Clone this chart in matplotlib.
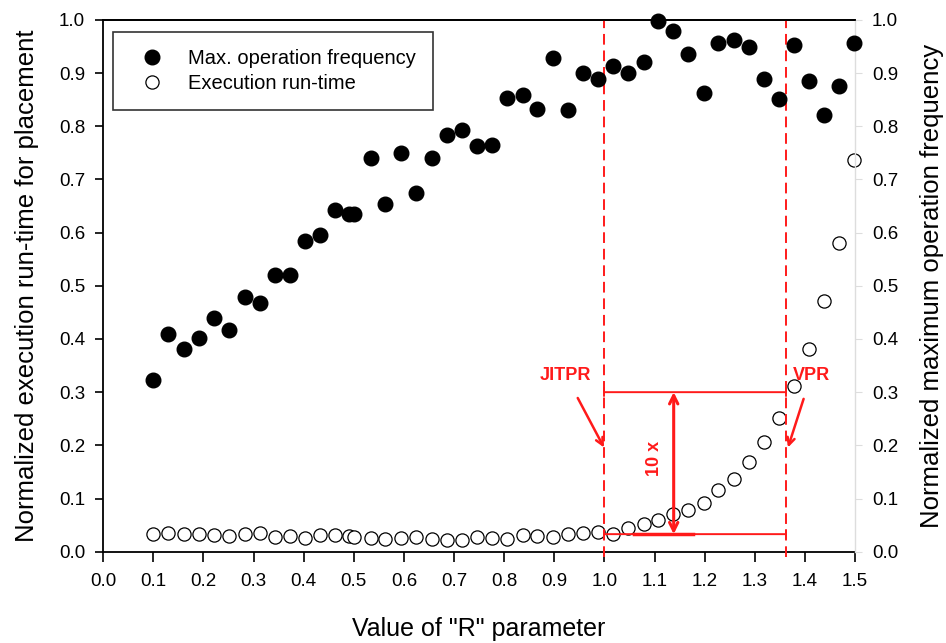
import numpy as np
import matplotlib
matplotlib.use('Agg')
import matplotlib.pyplot as plt

plt.rcParams['font.family'] = ['Liberation Sans', 'DejaVu Sans']

# R parameter values (same for both series)
r_values = [0.100, 0.130, 0.162, 0.192, 0.222, 0.252, 0.282, 0.313, 0.342, 0.373,
            0.402, 0.432, 0.463, 0.490, 0.500, 0.535, 0.563, 0.595, 0.625, 0.655,
            0.685, 0.715, 0.745, 0.775, 0.805, 0.837, 0.865, 0.897, 0.927, 0.957,
            0.987, 1.017, 1.047, 1.078, 1.107, 1.137, 1.166, 1.198, 1.226, 1.258,
            1.288, 1.318, 1.348, 1.378, 1.408, 1.438, 1.468, 1.498]

# normalized max operation frequency (right axis)
max_freq = [0.322, 0.409, 0.382, 0.401, 0.439, 0.416, 0.479, 0.467, 0.520, 0.520,
            0.584, 0.595, 0.642, 0.635, 0.635, 0.740, 0.653, 0.750, 0.675, 0.740,
            0.783, 0.793, 0.763, 0.765, 0.853, 0.859, 0.832, 0.928, 0.830, 0.900,
            0.889, 0.913, 0.900, 0.921, 0.998, 0.979, 0.936, 0.863, 0.957, 0.962,
            0.949, 0.889, 0.851, 0.953, 0.885, 0.821, 0.876, 0.957]

# normalized execution run-time (left axis)
run_time = [0.033, 0.035, 0.033, 0.034, 0.031, 0.029, 0.033, 0.036, 0.027, 0.029,
            0.026, 0.031, 0.031, 0.029, 0.027, 0.026, 0.024, 0.025, 0.027, 0.024,
            0.022, 0.022, 0.027, 0.025, 0.024, 0.031, 0.030, 0.028, 0.033, 0.035,
            0.037, 0.034, 0.045, 0.053, 0.060, 0.071, 0.079, 0.091, 0.116, 0.137,
            0.168, 0.206, 0.252, 0.311, 0.382, 0.471, 0.580, 0.736]

ticks = np.round(np.arange(0, 1.51, 0.1), 1)
yticks = np.round(np.arange(0, 1.01, 0.1), 1)

jitpr_x = 1.0
vpr_x = 1.362
gap_low = 0.033
gap_high = 0.30
red = '#ff1a1a'

fig = plt.figure(figsize=(9.46, 6.43), dpi=100)
ax = fig.add_axes([0.109, 0.142, 0.795, 0.827])
ax2 = ax.twinx()

ax.set_xlim(0, 1.5)
ax.set_ylim(0, 1.0)
ax2.set_ylim(0, 1.0)

# data
h2, = ax.plot(r_values, run_time, 'o', ms=9.5, mfc='white', mec='black', mew=0.9,
              label='Execution run-time', zorder=3, clip_on=False)
h1, = ax2.plot(r_values, max_freq, 'o', ms=10.5, color='black',
               label='Max. operation frequency', zorder=3, clip_on=False)

# red annotations
for xv in [jitpr_x, vpr_x]:
    ax.plot([xv, xv], [-0.01, 1.0], color=red, ls=(0, (5.5, 3)), lw=1.4,
            clip_on=False, zorder=4)

ax.annotate('', xy=(jitpr_x, gap_high), xytext=(vpr_x, gap_high),
            arrowprops=dict(arrowstyle='|-|, widthA=0.3, widthB=0.3', color=red,
                            lw=1.4, shrinkA=0, shrinkB=0), zorder=4)
ax.annotate('', xy=(jitpr_x, gap_low), xytext=(vpr_x, gap_low),
            arrowprops=dict(arrowstyle='|-|, widthA=0.3, widthB=0.3', color=red,
                            lw=1.4, shrinkA=0, shrinkB=0), zorder=4)
ax.plot([1.058, 1.176], [gap_low, gap_low], color=red, lw=2.5, zorder=4)
ax.annotate('', xy=(1.138, gap_high), xytext=(1.138, gap_low),
            arrowprops=dict(arrowstyle='<->, head_length=0.6, head_width=0.3',
                            color=red, lw=2.2, shrinkA=0, shrinkB=0), zorder=4)
ax.text(1.10, 0.175, '10 x', color=red, fontsize=13, fontweight='bold',
        rotation=90, ha='center', va='center')

ax.annotate('JITPR', xy=(0.999, 0.196), xytext=(0.923, 0.331), color=red,
            fontsize=13, fontweight='bold', ha='center', va='center',
            arrowprops=dict(arrowstyle='->', color=red, lw=1.8,
                            shrinkA=9, shrinkB=0))
ax.annotate('VPR', xy=(1.366, 0.196), xytext=(1.412, 0.331), color=red,
            fontsize=13, fontweight='bold', ha='center', va='center',
            arrowprops=dict(arrowstyle='->', color=red, lw=1.8,
                            shrinkA=9, shrinkB=0))

# axes styling
ax.set_xticks(ticks)
ax.set_xticklabels([f'{t:.1f}' for t in ticks])
ax.set_yticks(yticks)
ax.set_yticklabels([f'{t:.1f}' for t in yticks])
ax2.set_yticks(yticks)
ax2.set_yticklabels([f'{t:.1f}' for t in yticks])
ax.tick_params(axis='x', direction='out', length=7, width=1.2, labelsize=13.5, pad=8)
ax.tick_params(axis='y', direction='out', length=6, width=1.2, labelsize=13.5, pad=7)
ax2.tick_params(axis='y', direction='out', length=5, width=0.8, colors='#dddddd',
                labelcolor='black', labelsize=13.5, pad=7)

for s in ['left', 'bottom', 'top']:
    ax.spines[s].set_linewidth(1.3)
ax.spines['right'].set_visible(False)
ax2.spines['right'].set_color('#dddddd')
ax2.spines['right'].set_linewidth(1.0)
ax2.spines['left'].set_visible(False)
ax2.spines['bottom'].set_visible(False)
ax2.spines['top'].set_linewidth(1.3)

ax.set_xlabel('Value of "R" parameter', fontsize=18, labelpad=20)
ax.set_ylabel('Normalized execution run-time for placement', fontsize=18.5, labelpad=14)
ax2.set_ylabel('Normalized maximum operation frequency', fontsize=18.5, labelpad=16)

leg = ax2.legend(handles=[h1, h2], loc='upper left', bbox_to_anchor=(0.0133, 0.977),
                 fontsize=14.5, frameon=True, fancybox=False, edgecolor='black',
                 handlelength=2.2, handletextpad=0.65, borderpad=0.85,
                 labelspacing=0.3, borderaxespad=0)
leg.get_frame().set_linewidth(1.2)

fig.savefig('out.png', dpi=100)
